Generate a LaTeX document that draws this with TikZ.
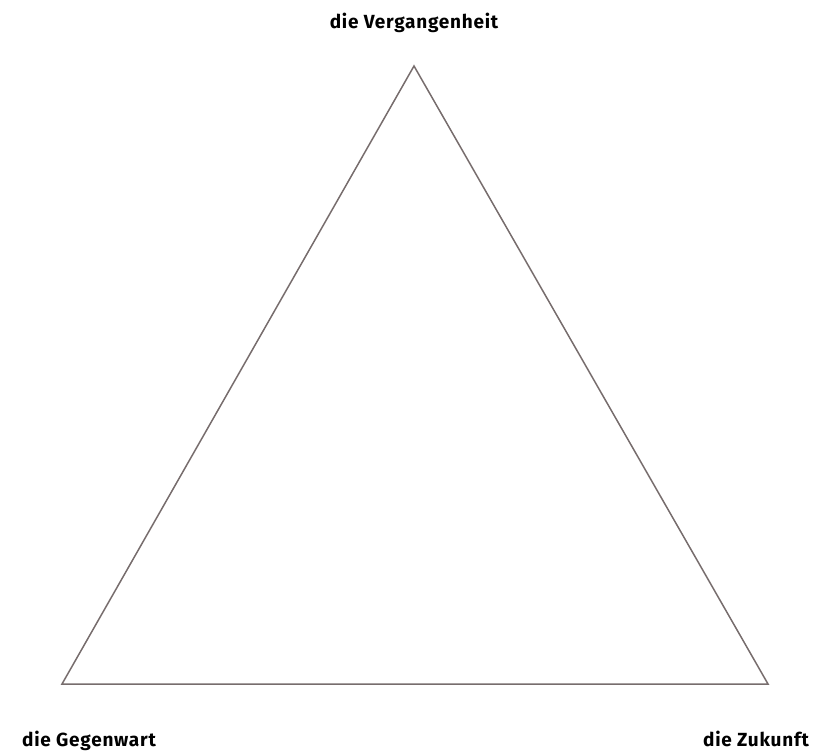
\documentclass[tikz,border=0pt]{standalone}
\usepackage{fontspec}
\setmainfont{Fira Sans}[LetterSpace=4]
\definecolor{edgegray}{HTML}{776D6D}
\begin{document}
\begin{tikzpicture}[x=1pt,y=-1pt,
  lbl/.style={font=\fontsize{19}{21}\selectfont\bfseries, text=black, inner sep=0pt, anchor=base},
  edge/.style={draw=edgegray, line width=1.5pt, line join=miter}]
\useasboundingbox (0,0) rectangle (830,750);
\coordinate (top) at (414,66);
\coordinate (left) at (62,684);
\coordinate (right) at (768,684);
\draw[edge] (top) -- (right) -- (left) -- cycle;
\node[lbl] (past) at (414,28) {die Vergangenheit};
\node[lbl] (present) at (89,746) {die Gegenwart};
\node[lbl] (future) at (756,746) {die Zukunft};
\end{tikzpicture}
\end{document}
